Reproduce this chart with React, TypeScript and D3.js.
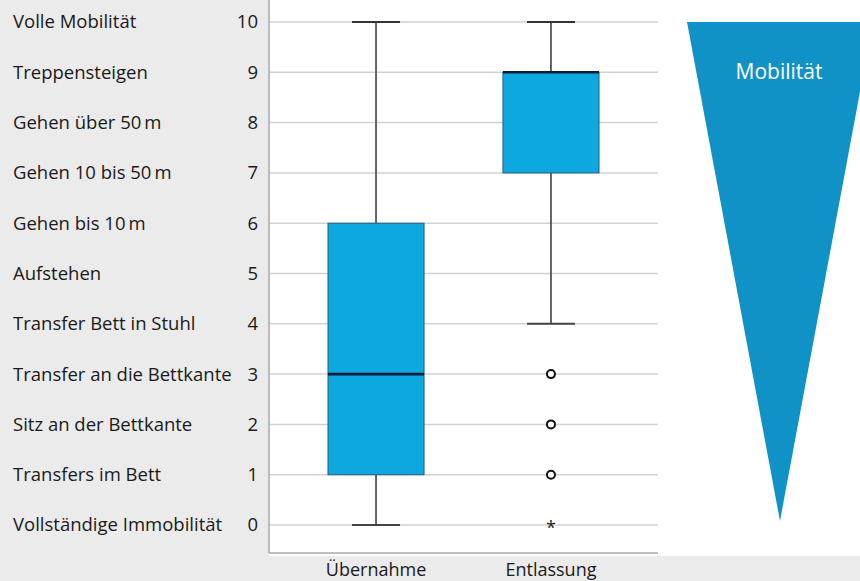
import React from "react";
import * as d3 from "d3";

const categories = ["Übernahme", "Entlassung"];
const whiskerLow = [0, 4];
const q1 = [1, 7];
const median = [3, 9];
const q3 = [6, 9];
const whiskerHigh = [10, 10];
const outliers = [[], [3, 2, 1]];
const extremes = [[], [0]];
const levelLabels = [
  "Vollständige Immobilität",
  "Transfers im Bett",
  "Sitz an der Bettkante",
  "Transfer an die Bettkante",
  "Transfer Bett in Stuhl",
  "Aufstehen",
  "Gehen bis 10\u2009m",
  "Gehen 10 bis 50\u2009m",
  "Gehen über 50\u2009m",
  "Treppensteigen",
  "Volle Mobilität",
];
const levelTicks = d3.range(0, 11);
const arrowLabel = "Mobilität";

const W = 860;
const H = 581;
const FONT = "'Open Sans', 'Noto Sans', sans-serif";

export default function App() {
  const y = d3.scaleLinear().domain([0, 10]).range([525, 22]);
  const x = d3.scaleBand().domain(categories).range([328, 599]).paddingInner(0.451).paddingOuter(0);
  const axisX = 269;
  const plotRight = 658;
  const axisBottom = 553;

  const tri = d3.line()([
    [687, 22],
    [873, 22],
    [780, 521],
  ]) + "Z";

  return (
    <svg width={W} height={H} style={{ position: "absolute", left: 0, top: 0 }}>
      <rect x={0} y={0} width={W} height={H} fill="#ebebeb" />
      <rect x={axisX} y={0} width={W - axisX} height={556} fill="#ffffff" />
      {levelTicks.map((t) => (
        <line key={"g" + t} x1={axisX} x2={plotRight} y1={y(t)} y2={y(t)} stroke="#d2d2d2" strokeWidth={1.5} />
      ))}
      <line x1={axisX} x2={axisX} y1={0} y2={axisBottom} stroke="#a8a8a8" strokeWidth={1.5} />
      <line x1={axisX} x2={plotRight} y1={axisBottom} y2={axisBottom} stroke="#a8a8a8" strokeWidth={1.5} />
      {levelTicks.map((t, i) => (
        <g key={"l" + t}>
          <text x={13} y={y(t)} dy="0.35em" fontFamily={FONT} fontSize={18.5} fill="#1a1a1a">
            {levelLabels[i]}
          </text>
          <text x={258} y={y(t)} dy="0.35em" textAnchor="end" fontFamily={FONT} fontSize={18.5} fill="#1a1a1a">
            {t}
          </text>
        </g>
      ))}
      {categories.map((c, i) => {
        const bx = x(c)!;
        const bw = x.bandwidth();
        const cx = bx + bw / 2;
        const capW = 48;
        return (
          <g key={c}>
            <line x1={cx} x2={cx} y1={y(whiskerHigh[i])} y2={y(q3[i])} stroke="#555" strokeWidth={1.8} />
            <line x1={cx} x2={cx} y1={y(q1[i])} y2={y(whiskerLow[i])} stroke="#555" strokeWidth={1.8} />
            <line x1={cx - capW / 2} x2={cx + capW / 2} y1={y(whiskerHigh[i])} y2={y(whiskerHigh[i])} stroke="#333" strokeWidth={2.2} />
            <line x1={cx - capW / 2} x2={cx + capW / 2} y1={y(whiskerLow[i])} y2={y(whiskerLow[i])} stroke="#444" strokeWidth={2} />
            <rect x={bx} y={y(q3[i])} width={bw} height={y(q1[i]) - y(q3[i])} fill="#0ea8e1" stroke="#1f5f80" strokeWidth={1} />
            <line x1={bx} x2={bx + bw} y1={y(median[i])} y2={y(median[i])} stroke="#0b1a3a" strokeWidth={2.6} />
            {outliers[i].map((v) => (
              <circle key={"o" + v} cx={cx} cy={y(v)} r={4} fill="#fff" stroke="#111" strokeWidth={2} />
            ))}
            {extremes[i].map((v) => (
              <text key={"e" + v} x={cx} y={y(v)} dy="0.48em" textAnchor="middle" fontFamily={FONT} fontSize={18} fill="#222">
                *
              </text>
            ))}
            <text x={cx} y={576} textAnchor="middle" fontFamily={FONT} fontSize={18} fill="#1a1a1a">
              {c}
            </text>
          </g>
        );
      })}
      <path d={tri} fill="#1192c6" />
      <text x={779} y={79} textAnchor="middle" fontFamily={FONT} fontSize={21} fill="#ffffff">
        {arrowLabel}
      </text>
    </svg>
  );
}
